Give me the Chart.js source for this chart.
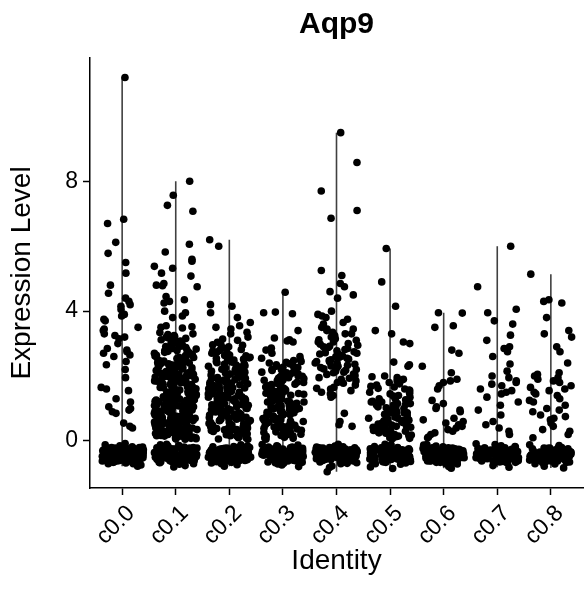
<!DOCTYPE html>
<html>
<head>
<meta charset="utf-8">
<script src="https://cdn.jsdelivr.net/npm/chart.js@4.4.1/dist/chart.umd.min.js"></script>
<style>
  html, body { margin: 0; padding: 0; background: #fff; }
  #wrap { width: 587px; height: 590px; }
</style>
</head>
<body>
<div id="wrap"><canvas id="chart" width="587" height="590"></canvas></div>
<script>
const clusters = ['c0.0', 'c0.1', 'c0.2', 'c0.3', 'c0.4', 'c0.5', 'c0.6', 'c0.7', 'c0.8']
const yTicks = [0, 4, 8]

// per-cell expression, expressing cells first, then the low band
const c00 = [11.2, 6.83, 6.7, 6.12, 5.78, 5.5, 5.17, 4.8, 4.55, 4.4, 4.3, 4.2, 4.15, 4.05, 3.9, 3.85, 3.75, 3.7, 3.5, 3.45, 3.4, 3.3, 3.25, 3.2, 3.15, 3.0, 2.85, 2.8, 2.75, 2.7, 2.65, 2.6, 2.45, 2.35, 2.2, 1.95, 1.65, 1.6, 1.55, 1.3, 1.2, 1.05, 1.0, 0.95, 0.9, 0.85, 0.55, 0.45, 0.4,
  -0.12, -0.25, -0.38, -0.5, -0.62, -0.3, -0.45, -0.2, -0.55, -0.7, -0.35, -0.28, -0.48, -0.6, -0.15, -0.42, -0.33, -0.52, -0.68, -0.22, -0.4, -0.58, -0.3, -0.46, -0.26, -0.36, -0.64, -0.18, -0.5, -0.41, -0.31, -0.56, -0.74, -0.24, -0.44, -0.34, -0.6, -0.28, -0.49, -0.39, -0.08, -0.53, -0.29, -0.43, -0.66, -0.21, -0.37, -0.57, -0.32, -0.47, -0.27, -0.62, -0.4, -0.52, -0.35, -0.78, -0.23, -0.45, -0.3, -0.55, -0.38, -0.6, -0.26, -0.48, -0.34, -0.7, -0.42, -0.5, -0.2, -0.36,
  -0.27, -0.41, -0.53, -0.19, -0.35, -0.47, -0.6, -0.31, -0.44, -0.23, -0.38, -0.51, -0.65, -0.29, -0.42, -0.56, -0.33, -0.46, -0.21, -0.37, -0.49, -0.62, -0.28, -0.4, -0.54]
const c01 = [8.0, 7.57, 7.26, 7.08, 6.06, 5.82, 5.6, 5.54, 5.38, 5.32, 5.17, 5.08, 4.85, 4.8, 4.78, 4.75, 4.45, 4.35, 4.3, 4.25, 4.0, 3.95, 3.85, 3.8, 3.55, 3.52, 3.5, 3.48,
  3.34, 3.3, 3.25, 3.22, 3.2, 3.16, 3.12, 3.1, 3.08, 3.03, 3.0, 2.97, 2.95, 2.92, 2.88, 2.86, 2.83, 2.8, 2.78, 2.76, 2.72, 2.7, 2.67, 2.66, 2.63, 2.6, 2.58, 2.55, 2.54, 2.5, 2.48, 2.46, 2.43, 2.41, 2.4, 2.36, 2.35, 2.31, 2.3, 2.28, 2.26, 2.22, 2.2, 2.19, 2.16, 2.14, 2.1, 2.09, 2.06, 2.04, 2.01, 2.0, 1.97, 1.95, 1.93, 1.9, 1.88, 1.87, 1.84, 1.82, 1.8, 1.78, 1.76, 1.74, 1.71, 1.7, 1.68, 1.66, 1.63, 1.62, 1.6, 1.57, 1.55, 1.54, 1.51, 1.5, 1.48, 1.45, 1.44, 1.42, 1.4, 1.37, 1.36, 1.34, 1.31, 1.3, 1.28, 1.26, 1.23, 1.22, 1.2, 1.18, 1.16, 1.13, 1.12, 1.1, 1.08, 1.05, 1.04, 1.02, 1.0, 0.98, 0.96, 0.94, 0.91, 0.9, 0.88, 0.86, 0.84, 0.81, 0.8, 0.78, 0.76, 0.73, 0.72, 0.7, 0.68, 0.66, 0.64, 0.61, 0.6, 0.58, 0.56, 0.54, 0.52, 0.5, 0.47, 0.46, 0.44, 0.42, 0.4, 0.38, 0.36, 0.34, 0.32, 0.3, 0.27, 0.26, 0.24, 0.22, 0.2, 0.18, 0.16, 0.14, 0.12, 0.1, 0.08, 0.06,
  3.28, 3.18, 3.06, 2.99, 2.91, 2.85, 2.79, 2.73, 2.69, 2.64, 2.57, 2.52, 2.47, 2.44, 2.38, 2.33, 2.29, 2.24, 2.21, 2.17, 2.12, 2.07, 2.03, 1.99, 1.96, 1.92, 1.89, 1.85, 1.83, 1.79, 1.77, 1.73, 1.69, 1.67, 1.64, 1.61, 1.58, 1.56, 1.53, 1.49, 1.47, 1.43, 1.41, 1.38, 1.35, 1.33, 1.29, 1.27, 1.25, 1.21, 1.19, 1.17, 1.14, 1.11, 1.09, 1.06, 1.03, 1.01, 0.99, 0.97, 0.93, 0.92, 0.89, 0.87, 0.85, 0.83, 0.79, 0.77, 0.75, 0.74, 0.71, 0.69, 0.67, 0.65, 0.63, 0.62, 0.59, 0.57, 0.55, 0.53, 0.51, 0.49, 0.48, 0.45, 0.43, 0.41, 0.39, 0.37, 0.35, 0.33, 0.31, 0.29, 0.28, 0.25, 0.23, 0.21, 0.19, 0.17, 0.15, 0.13, 0.11, 0.09, 0.07, 0.05,
  2.35, 2.15, 1.95, 1.75, 1.55, 1.35, 1.15, 0.95, 0.75, 0.55, 0.35, 0.15, 2.62, 2.25, 1.85, 1.45, 1.05, 0.65, 0.25, 2.05, 1.65, 1.25, 0.85, 0.45,
  -0.1, -0.32, -0.51, -0.22, -0.44, -0.63, -0.28, -0.4, -0.56, -0.18, -0.36, -0.7, -0.47, -0.25, -0.58, -0.33, -0.42, -0.14, -0.53, -0.3, -0.66, -0.38, -0.49, -0.21, -0.6, -0.35, -0.45, -0.27, -0.55, -0.76, -0.31, -0.41, -0.19, -0.5, -0.62, -0.37, -0.24, -0.46, -0.57, -0.29, -0.43, -0.68, -0.34, -0.52, -0.16, -0.4, -0.59, -0.26, -0.48, -0.36, -0.64, -0.3, -0.44, -0.54, -0.22, -0.39, -0.72, -0.33, -0.5, -0.28, -0.46, -0.6, -0.2, -0.42, -0.55, -0.35, -0.8, -0.31, -0.47, -0.25, -0.58, -0.38, -0.44, -0.66, -0.29, -0.52, -0.12, -0.4, -0.5, -0.34,
  -0.26, -0.43, -0.55, -0.18, -0.36, -0.48, -0.61, -0.3, -0.45, -0.22, -0.39, -0.52, -0.67, -0.28, -0.41, -0.57, -0.34, -0.47, -0.2, -0.38, -0.5, -0.63, -0.27, -0.42, -0.53]
const c02 = [6.2, 6.0, 4.2, 4.15, 3.95, 3.8, 3.65, 3.55, 3.5, 3.45, 3.35, 3.3,
  3.2, 3.14, 3.1, 3.04, 2.98, 2.95, 2.9, 2.84, 2.82, 2.77, 2.74, 2.7, 2.65, 2.62, 2.58, 2.55, 2.52, 2.47, 2.45, 2.41, 2.38, 2.34, 2.32, 2.28, 2.25, 2.21, 2.19, 2.15, 2.12, 2.09, 2.06, 2.03, 2.0, 1.96, 1.95, 1.91, 1.88, 1.86, 1.83, 1.8, 1.76, 1.75, 1.71, 1.69, 1.66, 1.63, 1.61, 1.58, 1.55, 1.52, 1.5, 1.47, 1.45, 1.42, 1.39, 1.36, 1.34, 1.31, 1.29, 1.26, 1.23, 1.21, 1.18, 1.15, 1.12, 1.1, 1.07, 1.05, 1.02, 0.99, 0.96, 0.94, 0.91, 0.89, 0.86, 0.83, 0.8, 0.78, 0.75, 0.73, 0.7, 0.67, 0.64, 0.62, 0.59, 0.57, 0.54, 0.51, 0.48, 0.46, 0.43, 0.41, 0.38, 0.35, 0.32, 0.3, 0.27, 0.25, 0.22, 0.19, 0.16, 0.14, 0.11, 0.09, 0.06,
  2.96, 2.87, 2.79, 2.71, 2.63, 2.56, 2.49, 2.43, 2.36, 2.3, 2.23, 2.17, 2.11, 2.05, 1.99, 1.93, 1.89, 1.84, 1.78, 1.73, 1.68, 1.64, 1.59, 1.54, 1.49, 1.44, 1.4, 1.35, 1.3, 1.25, 1.2, 1.16, 1.11, 1.06, 1.01, 0.97, 0.92, 0.87, 0.82, 0.77, 0.72, 0.68, 0.63, 0.58, 0.53, 0.49, 0.44, 0.39, 0.34, 0.29, 0.24, 0.2, 0.15, 0.1, 0.05, 2.5, 2.2, 1.9, 1.6, 1.3, 1.0, 0.7, 0.4, 2.0, 1.45, 0.9, 0.35,
  -0.15, -0.34, -0.52, -0.24, -0.45, -0.61, -0.3, -0.4, -0.57, -0.2, -0.37, -0.68, -0.46, -0.27, -0.55, -0.35, -0.43, -0.12, -0.5, -0.31, -0.64, -0.39, -0.48, -0.22, -0.59, -0.33, -0.44, -0.28, -0.53, -0.73, -0.3, -0.42, -0.18, -0.49, -0.6, -0.36, -0.25, -0.45, -0.56, -0.29, -0.41, -0.66, -0.34, -0.51, -0.17, -0.38, -0.58, -0.26, -0.47, -0.35, -0.63, -0.31, -0.43, -0.54, -0.23, -0.4, -0.7, -0.32, -0.5, -0.28, -0.46, -0.6, -0.21, -0.42, -0.55, -0.36, -0.78, -0.3,
  -0.28, -0.4, -0.54, -0.2, -0.36, -0.47, -0.62, -0.32, -0.43, -0.24, -0.37, -0.5, -0.64, -0.3, -0.44, -0.55, -0.34, -0.48, -0.22, -0.39, -0.51, -0.6, -0.29, -0.41, -0.53]
const c03 = [4.58, 3.97, 3.95, 3.92, 3.4, 3.17, 3.12, 3.08, 3.05, 2.86, 2.8, 2.7, 2.6, 2.55,
  2.5, 2.45, 2.42, 2.38, 2.35, 2.3, 2.27, 2.24, 2.2, 2.17, 2.14, 2.1, 2.07, 2.04, 2.0, 1.97, 1.95, 1.92, 1.88, 1.86, 1.83, 1.8, 1.77, 1.74, 1.71, 1.69, 1.66, 1.63, 1.6, 1.57, 1.55, 1.52, 1.49, 1.46, 1.44, 1.41, 1.38, 1.35, 1.33, 1.3, 1.27, 1.24, 1.22, 1.19, 1.16, 1.13, 1.1, 1.08, 1.05, 1.02, 0.99, 0.97, 0.94, 0.91, 0.88, 0.86, 0.83, 0.8, 0.77, 0.75, 0.72, 0.69, 0.66, 0.64, 0.61, 0.58, 0.55, 0.53, 0.5, 0.47, 0.44, 0.42, 0.39, 0.36, 0.33, 0.31, 0.28, 0.25, 0.22, 0.2, 0.17, 0.14, 0.11, 0.08,
  2.48, 2.4, 2.33, 2.26, 2.19, 2.12, 2.05, 1.99, 1.93, 1.87, 1.81, 1.75, 1.7, 1.64, 1.58, 1.53, 1.47, 1.42, 1.36, 1.31, 1.25, 1.2, 1.14, 1.09, 1.03, 0.98, 0.92, 0.87, 0.81, 0.76, 0.7, 0.65, 0.59, 0.54, 0.48, 0.43, 0.37, 0.32, 0.26, 0.21, 0.15, 0.1, 0.05, 2.1, 1.8, 1.5, 1.2, 0.9, 0.6, 0.3, 1.65, 1.0, 0.45,
  -0.13, -0.3, -0.49, -0.23, -0.43, -0.62, -0.29, -0.38, -0.56, -0.19, -0.36, -0.67, -0.45, -0.26, -0.54, -0.34, -0.42, -0.11, -0.51, -0.3, -0.65, -0.4, -0.47, -0.21, -0.58, -0.32, -0.45, -0.27, -0.52, -0.74, -0.31, -0.41, -0.17, -0.48, -0.61, -0.37, -0.24, -0.44, -0.57, -0.28, -0.42, -0.69, -0.33, -0.5, -0.15, -0.39, -0.59, -0.25, -0.46, -0.35, -0.63, -0.3, -0.44, -0.53, -0.22, -0.38, -0.71, -0.33, -0.49, -0.27, -0.47, -0.6, -0.2, -0.41, -0.55, -0.36, -0.79, -0.32,
  -0.26, -0.42, -0.52, -0.19, -0.35, -0.46, -0.61, -0.3, -0.44, -0.23, -0.38, -0.5, -0.66, -0.28, -0.43, -0.57, -0.33, -0.47, -0.21, -0.36, -0.49, -0.63, -0.27, -0.4, -0.55]
const c04 = [9.5, 8.58, 7.7, 7.1, 6.86, 5.25, 5.1, 4.85, 4.75, 4.6, 4.5, 4.4, 4.0, 3.9, 3.85, 3.8, 3.75, 3.65, 3.6, 3.5, 3.45, 3.4, 3.35, 3.3, 3.25, 3.2,
  3.15, 3.1, 3.05, 3.0, 2.95, 2.9, 2.88, 2.82, 2.78, 2.75, 2.7, 2.66, 2.62, 2.6, 2.55, 2.5, 2.48, 2.45, 2.4, 2.36, 2.33, 2.3, 2.25, 2.22, 2.2, 2.15, 2.12, 2.1, 2.05, 2.02, 1.98, 1.95, 1.9, 1.85, 1.8, 1.72, 1.65, 1.6, 1.55, 1.5, 1.45, 1.4, 1.35, 0.85, 0.6, 0.5, 0.45,
  3.45, 3.3, 3.12, 2.98, 2.85, 2.72, 2.58, 2.44, 2.31, 2.18, 2.06, 1.93, 1.78, 1.62, 2.52, 2.68, 2.92, 3.05, 2.26, 2.4,
  -0.14, -0.33, -0.5, -0.24, -0.44, -0.64, -0.29, -0.41, -0.57, -0.19, -0.37, -0.7, -0.46, -0.26, -0.56, -0.34, -0.43, -0.1, -0.52, -0.3, -0.67, -0.39, -0.48, -0.22, -0.6, -0.35, -0.45, -0.28, -0.54, -0.77, -0.32, -0.42, -0.18, -0.5, -0.62, -0.37, -0.25, -0.46, -0.58, -0.3, -0.43, -0.69, -0.34, -0.52, -0.16, -0.4, -0.6, -0.27, -0.47, -0.36, -0.65, -0.31, -0.44, -0.55, -0.23, -0.39, -0.95, -0.33, -0.51, -0.29, -0.47, -0.61, -0.21, -0.42, -0.56, -0.35, -0.82, -0.31,
  -0.27, -0.41, -0.53, -0.2, -0.36, -0.48, -0.62, -0.31, -0.45, -0.22, -0.38, -0.51, -0.66, -0.29, -0.42, -0.56, -0.34, -0.46, -0.21, -0.37, -0.5, -0.61, -0.28, -0.4, -0.54]
const c05 = [5.93, 4.9, 4.15, 3.4, 3.3, 3.05, 3.0, 2.43, 2.35, 2.3,
  2.0, 1.95, 1.9, 1.85, 1.8, 1.72, 1.68, 1.62, 1.6, 1.55, 1.5, 1.45, 1.4, 1.35, 1.3, 1.27, 1.22, 1.2, 1.15, 1.12, 1.1, 1.05, 1.02, 1.0, 0.96, 0.93, 0.9, 0.87, 0.85, 0.82, 0.8, 0.77, 0.74, 0.72, 0.7, 0.67, 0.64, 0.62, 0.6, 0.57, 0.55, 0.52, 0.5, 0.47, 0.45, 0.42, 0.4, 0.37, 0.35, 0.32, 0.3, 0.27, 0.25, 0.22, 0.2, 0.17, 0.15, 0.12, 0.1, 0.07,
  1.98, 1.88, 1.76, 1.66, 1.57, 1.47, 1.38, 1.29, 1.2, 1.11, 1.02, 0.94, 0.86, 0.78, 0.7, 0.63, 0.56, 0.49, 0.42, 0.36, 0.3, 0.24, 0.18, 0.13, 0.08, 1.15, 0.88, 0.6, 0.33, 0.16,
  -0.12, -0.35, -0.53, -0.25, -0.46, -0.65, -0.3, -0.42, -0.58, -0.2, -0.38, -0.72, -0.47, -0.27, -0.57, -0.35, -0.44, -0.1, -0.53, -0.31, -0.68, -0.4, -0.49, -0.23, -0.61, -0.36, -0.46, -0.29, -0.55, -0.8, -0.33, -0.43, -0.19, -0.51, -0.63, -0.38, -0.26, -0.47, -0.59, -0.31, -0.44, -0.7, -0.35, -0.53, -0.17, -0.41, -0.61, -0.28, -0.48, -0.37, -0.66, -0.32, -0.45, -0.56, -0.24, -0.4, -0.85, -0.34, -0.52, -0.3, -0.48, -0.62, -0.22, -0.43, -0.57, -0.36,
  -0.28, -0.42, -0.55, -0.21, -0.37, -0.49, -0.64, -0.32, -0.46, -0.24, -0.39, -0.52, -0.69, -0.3, -0.44, -0.58, -0.35, -0.48, -0.22, -0.38, -0.51, -0.63, -0.29, -0.41, -0.56]
const c06 = [3.95, 3.94, 3.55, 3.5, 2.8, 2.7, 2.3, 2.1, 1.9, 1.85, 1.8, 1.7, 1.6, 1.25, 1.15, 1.05, 1.0, 0.95, 0.9, 0.7, 0.65, 0.6, 0.55, 0.5, 0.45, 0.4, 0.35, 0.3, 0.25, 0.2, 0.12, 0.1,
  -0.13, -0.34, -0.52, -0.24, -0.45, -0.66, -0.3, -0.41, -0.58, -0.2, -0.38, -0.71, -0.47, -0.27, -0.56, -0.35, -0.44, -0.11, -0.53, -0.31, -0.69, -0.4, -0.49, -0.23, -0.61, -0.36, -0.46, -0.29, -0.55, -0.79, -0.33, -0.43, -0.18, -0.5, -0.63, -0.38, -0.26, -0.47, -0.59, -0.31, -0.44, -0.7, -0.35, -0.53, -0.16, -0.41, -0.61, -0.28, -0.48, -0.37, -0.66, -0.32, -0.45, -0.56, -0.24, -0.4, -0.84, -0.34, -0.52, -0.3, -0.48, -0.62, -0.22, -0.43, -0.57, -0.36,
  -0.27, -0.43, -0.54, -0.2, -0.36, -0.48, -0.63, -0.31, -0.45, -0.23, -0.39, -0.51, -0.67, -0.29, -0.42, -0.57, -0.34, -0.47, -0.21, -0.37, -0.5, -0.62, -0.28, -0.41, -0.55]
const c07 = [6.0, 4.75, 4.06, 3.95, 3.7, 3.6, 3.26, 3.1, 2.9, 2.85, 2.75, 2.6, 2.37, 2.15, 2.0, 1.95, 1.85, 1.8, 1.75, 1.7, 1.6, 1.55, 1.5, 1.45, 1.35, 1.2, 1.1, 0.95, 0.8, 0.6, 0.5, 0.4, 0.3, 0.2,
  -0.11, -0.33, -0.5, -0.23, -0.44, -0.63, -0.29, -0.4, -0.57, -0.19, -0.37, -0.69, -0.46, -0.26, -0.55, -0.34, -0.43, -0.09, -0.52, -0.3, -0.66, -0.39, -0.48, -0.22, -0.6, -0.35, -0.45, -0.28, -0.54, -0.76, -0.32, -0.42, -0.17, -0.49, -0.62, -0.37, -0.25, -0.46, -0.58, -0.3, -0.43, -0.68, -0.34, -0.52, -0.15, -0.4, -0.6, -0.27, -0.47, -0.36, -0.64, -0.31, -0.44, -0.55, -0.23, -0.39, -0.81, -0.33, -0.51, -0.29, -0.47, -0.61, -0.21, -0.42, -0.56, -0.35,
  -0.26, -0.41, -0.53, -0.19, -0.35, -0.47, -0.61, -0.3, -0.44, -0.22, -0.38, -0.5, -0.65, -0.28, -0.42, -0.56, -0.33, -0.46, -0.2, -0.36, -0.49, -0.62, -0.27, -0.4, -0.54]
const c08 = [5.14, 4.35, 4.3, 4.25, 3.8, 3.4, 3.3, 3.2, 2.9, 2.75, 2.4, 2.1, 2.05, 2.0, 1.95, 1.9, 1.85, 1.8, 1.7, 1.65, 1.6, 1.55, 1.5, 1.45, 1.4, 1.3, 1.25, 1.2, 1.1, 1.0, 0.95, 0.9, 0.8, 0.75, 0.7, 0.65, 0.55, 0.45, 0.35, 0.3, 0.2, 0.1,
  -0.14, -0.35, -0.51, -0.25, -0.45, -0.64, -0.3, -0.42, -0.58, -0.2, -0.38, -0.7, -0.47, -0.27, -0.56, -0.35, -0.44, -0.12, -0.53, -0.31, -0.67, -0.4, -0.49, -0.23, -0.6, -0.36, -0.46, -0.29, -0.55, -0.78, -0.33, -0.43, -0.19, -0.5, -0.62, -0.38, -0.26, -0.47, -0.59, -0.31, -0.44, -0.71, -0.35, -0.53, -0.17, -0.41, -0.6, -0.28, -0.48, -0.37, -0.65, -0.32, -0.45, -0.56, -0.24, -0.4, -0.83, -0.34, -0.52, -0.3, -0.48, -0.62, -0.22, -0.43, -0.57, -0.36,
  -0.28, -0.42, -0.54, -0.21, -0.36, -0.48, -0.62, -0.32, -0.45, -0.24, -0.39, -0.51, -0.66, -0.3, -0.43, -0.57, -0.34, -0.47, -0.22, -0.38, -0.5, -0.63, -0.29, -0.41, -0.55]

const cellValues = [c00, c01, c02, c03, c04, c05, c06, c07, c08]

// sideways spread inside +-0.4 of the cluster, like geom_jitter, but repeatable
function jitter (i, k) {
  let h = Math.imul(i + 1, 2654435761) ^ Math.imul(k + 7, 40503)
  h = Math.imul(h ^ (h >>> 15), 2246822519)
  h = Math.imul(h ^ (h >>> 13), 3266489917)
  h ^= h >>> 16
  return ((h >>> 0) / 4294967296 - 0.5) * 0.8
}

const pointSets = cellValues.map((vals, k) => ({
  type: 'scatter',
  data: vals.map((v, i) => ({ x: k + 1 + jitter(i, k), y: v })),
  backgroundColor: '#000',
  borderWidth: 0,
  pointRadius: 3.8,
  order: 0
}))

// the violins are so narrow they show as a line from min to max
const violinSets = cellValues.map((vals, k) => ({
  type: 'line',
  data: [{ x: k + 1, y: Math.min(...vals) }, { x: k + 1, y: Math.max(...vals) }],
  borderColor: '#404040',
  borderWidth: 1.6,
  pointRadius: 0,
  order: 1
}))

Chart.defaults.font.family = '"Liberation Sans", Arial, Helvetica, sans-serif'
Chart.defaults.color = '#000'

new Chart(document.getElementById('chart'), {
  type: 'scatter',
  data: { datasets: [...pointSets, ...violinSets] },
  options: {
    responsive: false,
    animation: false,
    layout: { padding: 0 },
    plugins: {
      legend: { display: false },
      tooltip: { enabled: false },
      title: {
        display: true,
        text: 'Aqp9',
        fullSize: false,
        color: '#000',
        font: { size: 30, weight: 'bold' },
        padding: { top: 7, bottom: 15 }
      }
    },
    scales: {
      x: {
        type: 'linear',
        min: 0.4,
        max: 9.6,
        afterBuildTicks: scale => { scale.ticks = clusters.map((c, i) => ({ value: i + 1 })) },
        afterFit: scale => { scale.height = 102 },
        ticks: {
          autoSkip: false,
          minRotation: 45,
          maxRotation: 45,
          padding: 5,
          labelOffset: 9,
          color: '#000',
          font: { size: 23 },
          callback: v => clusters[Math.round(v) - 1]
        },
        grid: { drawOnChartArea: false, tickLength: 7, tickWidth: 1.5, color: '#000' },
        border: { color: '#000', width: 1.5 },
        title: { display: true, text: 'Identity', color: '#000', font: { size: 28 }, padding: { bottom: 12 } }
      },
      y: {
        type: 'linear',
        min: -1.45,
        max: 11.8,
        afterBuildTicks: scale => { scale.ticks = yTicks.map(v => ({ value: v })) },
        afterFit: scale => { scale.width = 90 },
        ticks: { padding: 5, color: '#000', font: { size: 23 } },
        grid: { drawOnChartArea: false, tickLength: 7, tickWidth: 1.5, color: '#000' },
        border: { color: '#000', width: 1.5 },
        title: { display: true, text: 'Expression Level', color: '#000', font: { size: 28 }, padding: { top: 5 } }
      }
    }
  }
})
</script>
</body>
</html>
